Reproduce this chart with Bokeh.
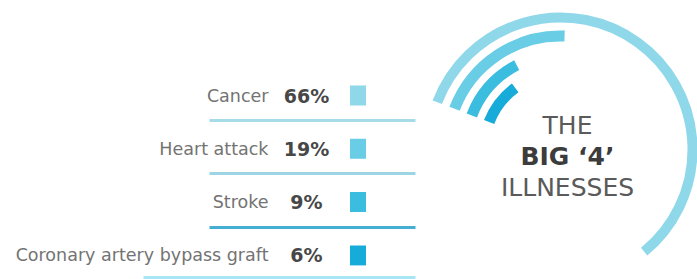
import math
from bokeh.plotting import figure
from bokeh.models import ColumnDataSource, Range1d
from bokeh.core.properties import value
from bokeh.embed import file_html
from bokeh.resources import INLINE

# ---- data ----
categories = ["Cancer", "Heart attack", "Stroke", "Coronary artery bypass graft"]
values = [66, 19, 9, 6]
pct_labels = ["66%", "19%", "9%", "6%"]
colors = ["#8fd8ea", "#6acde6", "#3bbde0", "#17abd9"]
rule_colors = ["#a6dce8", "#9dd5e5", "#45aed3", "#a9e6f3"]
title_lines = ["THE", "BIG \u20184\u2019", "ILLNESSES"]

# ---- layout (picture pixels -> data units, 1 unit = 1 px) ----
W, H = 697, 279
def X(px):
    return px
def Y(py):
    return H - py

row_py = [95 + 53.3 * i for i in range(4)]
rule_py = [120, 173, 227, 277]
rule_x0 = [209, 209, 209, 143]
rule_x1 = 415

p = figure(width=W, height=H, output_backend="svg", toolbar_location=None,
           x_range=Range1d(0, W), y_range=Range1d(0, H),
           x_axis_type=None, y_axis_type=None, min_border=0,
           background_fill_color="white", border_fill_color="white")
p.outline_line_color = None
p.grid.visible = False
for side in ("min_border_left", "min_border_right", "min_border_top", "min_border_bottom"):
    setattr(p, side, 0)

rows = ColumnDataSource(dict(
    cat=categories, pct=pct_labels, color=colors, rule=rule_colors,
    y=[Y(v) for v in row_py],
    lab_x=[X(268)] * 4, pct_x=[X(306)] * 4, sq_x=[X(357.5)] * 4,
    ry=[Y(v) for v in rule_py], rx0=[X(v) for v in rule_x0], rx1=[X(rule_x1)] * 4,
))

p.segment(x0="rx0", y0="ry", x1="rx1", y1="ry", source=rows, line_color="rule", line_width=3)
p.text(x="lab_x", y="y", text="cat", source=rows, text_align="right", text_baseline="middle",
       text_font=value("DejaVu Sans"), text_font_size=value("17.5px"), text_color="#737373")
p.text(x="pct_x", y="y", text="pct", source=rows, text_align="center", text_baseline="middle",
       text_font=value("DejaVu Sans"), text_font_size=value("19px"), text_font_style="bold",
       text_color="#474747")
p.rect(x="sq_x", y="y", width=16, height=20, source=rows, fill_color="color", line_color=None)

# ---- radial arcs ----
cx, cy = X(560), Y(149)
r0, step = 132, 18.5
start_deg = 159.0
def span(v):
    return 15 + 2.95 * v
arcs = ColumnDataSource(dict(
    x=[cx] * 4, y=[cy] * 4,
    r=[r0 - step * i for i in range(4)],
    a0=[math.radians(start_deg - span(v)) for v in values],
    a1=[math.radians(start_deg)] * 4,
    color=colors, lw=[10, 11, 11, 11],
))
p.arc(x="x", y="y", radius="r", start_angle="a0", end_angle="a1", direction="anticlock",
      source=arcs, line_color="color", line_width="lw")

# ---- centre title ----
tx = X(567)
title_py = [125, 156, 187]
p.text(x=[tx] * 3, y=[Y(v) for v in title_py], text=title_lines,
       text_align="center", text_baseline="middle",
       text_font=value("DejaVu Sans"), text_font_size=value("25px"),
       text_font_style=["normal", "bold", "normal"],
       text_color=["#5a5a5a", "#3c3c3c", "#5a5a5a"])

open("out.html", "w").write(file_html(p, INLINE))
